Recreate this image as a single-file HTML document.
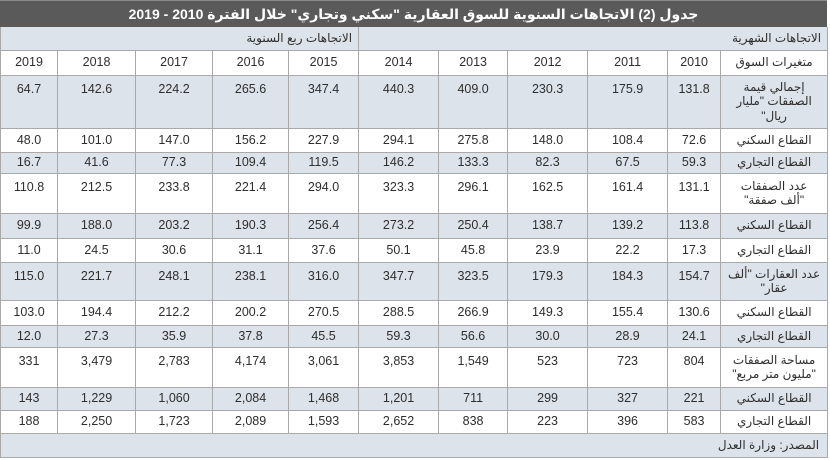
<!DOCTYPE html>
<html lang="ar">
<head>
<meta charset="utf-8">
<style>
  html,body{margin:0;padding:0;background:#fff;}
  body{width:830px;height:460px;overflow:hidden;position:relative;font-family:"Liberation Sans","DejaVu Sans",sans-serif;color:#333;}
  .title{position:absolute;left:0;top:0;width:827px;height:27px;background:#5a5a5a;color:#fff;font-weight:bold;font-size:14px;line-height:27px;text-align:center;direction:rtl;border-top:1px solid #8a8a8a;box-sizing:border-box;}
  table{position:absolute;left:0;top:27px;width:827px;border-collapse:collapse;table-layout:fixed;direction:rtl;}
  td{border:1px solid #a9a9a9;padding:0;text-align:center;vertical-align:middle;font-size:12.5px;line-height:15px;overflow:hidden;white-space:nowrap;color:#2e2e2e;}
  td.lab{font-size:12px;line-height:14.5px;padding:0 4px;}
  tr.b td{background:#dde3ea;}
  tr.w td{background:#fff;}
  tr.m td{vertical-align:top;padding-top:6px;}
  tr.m td.lab{vertical-align:middle;padding-top:0;}
  td.hd{text-align:right;font-size:12px;padding-right:6px;}
  td.src{text-align:right;font-size:12px;padding-right:8px;}
  table tr:first-child td{border-top:none;}
  td:first-child{border-right:1px solid #a9a9a9;}
</style>
</head>
<body>
<div class="title">جدول (2) الاتجاهات السنوية للسوق العقارية "سكني وتجاري" خلال الفترة 2010 - 2019</div>
<table>
  <colgroup>
    <col style="width:107px"><col style="width:53px"><col style="width:80px"><col style="width:80px"><col style="width:69px"><col style="width:80px"><col style="width:70px"><col style="width:76px"><col style="width:77px"><col style="width:78px"><col style="width:57px">
  </colgroup>
  <tr class="b" style="height:23px"><td class="hd" colspan="6">الاتجاهات الشهرية</td><td class="hd" colspan="5">الاتجاهات ربع السنوية</td></tr>
  <tr class="w" style="height:25px"><td class="lab">متغيرات السوق</td><td>2010</td><td>2011</td><td>2012</td><td>2013</td><td>2014</td><td>2015</td><td>2016</td><td>2017</td><td>2018</td><td>2019</td></tr>
  <tr class="b m" style="height:53px"><td class="lab">إجمالي قيمة<br>الصفقات "مليار<br>ريال"</td><td>131.8</td><td>175.9</td><td>230.3</td><td>409.0</td><td>440.3</td><td>347.4</td><td>265.6</td><td>224.2</td><td>142.6</td><td>64.7</td></tr>
  <tr class="w" style="height:24px"><td class="lab">القطاع السكني</td><td>72.6</td><td>108.4</td><td>148.0</td><td>275.8</td><td>294.1</td><td>227.9</td><td>156.2</td><td>147.0</td><td>101.0</td><td>48.0</td></tr>
  <tr class="b" style="height:21px"><td class="lab">القطاع التجاري</td><td>59.3</td><td>67.5</td><td>82.3</td><td>133.3</td><td>146.2</td><td>119.5</td><td>109.4</td><td>77.3</td><td>41.6</td><td>16.7</td></tr>
  <tr class="w m" style="height:40px"><td class="lab">عدد الصفقات<br>"ألف صفقة"</td><td>131.1</td><td>161.4</td><td>162.5</td><td>296.1</td><td>323.3</td><td>294.0</td><td>221.4</td><td>233.8</td><td>212.5</td><td>110.8</td></tr>
  <tr class="b" style="height:25px"><td class="lab">القطاع السكني</td><td>113.8</td><td>139.2</td><td>138.7</td><td>250.4</td><td>273.2</td><td>256.4</td><td>190.3</td><td>203.2</td><td>188.0</td><td>99.9</td></tr>
  <tr class="w" style="height:24px"><td class="lab">القطاع التجاري</td><td>17.3</td><td>22.2</td><td>23.9</td><td>45.8</td><td>50.1</td><td>37.6</td><td>31.1</td><td>30.6</td><td>24.5</td><td>11.0</td></tr>
  <tr class="b m" style="height:38px"><td class="lab">عدد العقارات "ألف<br>عقار"</td><td>154.7</td><td>184.3</td><td>179.3</td><td>323.5</td><td>347.7</td><td>316.0</td><td>238.1</td><td>248.1</td><td>221.7</td><td>115.0</td></tr>
  <tr class="w" style="height:25px"><td class="lab">القطاع السكني</td><td>130.6</td><td>155.4</td><td>149.3</td><td>266.9</td><td>288.5</td><td>270.5</td><td>200.2</td><td>212.2</td><td>194.4</td><td>103.0</td></tr>
  <tr class="b" style="height:22px"><td class="lab">القطاع التجاري</td><td>24.1</td><td>28.9</td><td>30.0</td><td>56.6</td><td>59.3</td><td>45.5</td><td>37.8</td><td>35.9</td><td>27.3</td><td>12.0</td></tr>
  <tr class="w m" style="height:40px"><td class="lab">مساحة الصفقات<br>"مليون متر مربع"</td><td>804</td><td>723</td><td>523</td><td>1,549</td><td>3,853</td><td>3,061</td><td>4,174</td><td>2,783</td><td>3,479</td><td>331</td></tr>
  <tr class="b" style="height:23px"><td class="lab">القطاع السكني</td><td>221</td><td>327</td><td>299</td><td>711</td><td>1,201</td><td>1,468</td><td>2,084</td><td>1,060</td><td>1,229</td><td>143</td></tr>
  <tr class="w" style="height:23px"><td class="lab">القطاع التجاري</td><td>583</td><td>396</td><td>223</td><td>838</td><td>2,652</td><td>1,593</td><td>2,089</td><td>1,723</td><td>2,250</td><td>188</td></tr>
  <tr class="b" style="height:24px"><td class="src" colspan="11">المصدر: وزارة العدل</td></tr>
</table>
</body>
</html>
